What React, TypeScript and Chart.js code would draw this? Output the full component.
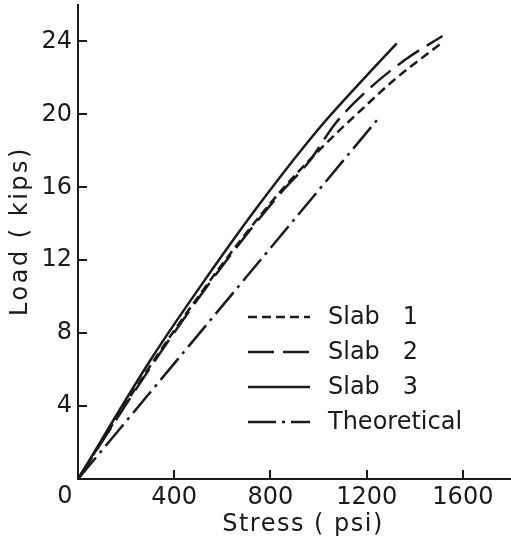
import React, { useEffect, useRef } from "react";
import { Chart, registerables } from "chart.js";

Chart.register(...registerables);

// ---- data ----
const slab1Stress = [0, 300, 500, 700, 850, 1015, 1190, 1315, 1425, 1520];
const slab1Load = [0, 6.2, 10.0, 13.5, 15.9, 18.2, 20.4, 21.9, 23.05, 24.0];

const slab2Stress = [0, 300, 500, 700, 850, 960, 1070, 1210, 1360, 1515];
const slab2Load = [0, 6.1, 9.9, 13.4, 15.8, 17.4, 19.5, 21.4, 23.0, 24.3];

const slab3Stress = [0, 300, 500, 750, 1000, 1170, 1325];
const slab3Load = [0, 6.5, 10.4, 15.0, 19.2, 21.7, 23.9];

const theoStress = [0, 840, 1250];
const theoLoad = [0, 13.3, 19.8];

const seriesLabels = ["Slab   1", "Slab   2", "Slab   3", "Theoretical"];
const xTickValues = [0, 400, 800, 1200, 1600];
const yTickValues = [4, 8, 12, 16, 20, 24];
const originLabel = "0";
const xTitle = "Stress ( psi)";
const yTitle = "Load ( kips)";

const INK = "#1a1a1a";
const FONT = "DejaVu Sans";

const toPoints = (xs: number[], ys: number[]) => xs.map((x, i) => ({ x, y: ys[i] }));

const dashes = [[9, 5], [26, 9], [], [28, 6, 3, 6]];

export default function App() {
  const ref = useRef<HTMLCanvasElement | null>(null);

  useEffect(() => {
    if (!ref.current) return;

    const decorPlugin = {
      id: "decor",
      afterDraw(chart: any) {
        const ctx = chart.ctx as CanvasRenderingContext2D;
        const xs = chart.scales.x;
        const ys = chart.scales.y;
        const area = chart.chartArea;
        ctx.save();
        // inside tick marks
        ctx.strokeStyle = INK;
        ctx.lineWidth = 2;
        ctx.setLineDash([]);
        yTickValues.forEach((v) => {
          const py = Math.round(ys.getPixelForValue(v));
          ctx.beginPath();
          ctx.moveTo(area.left, py);
          ctx.lineTo(area.left + 9, py);
          ctx.stroke();
        });
        xTickValues.forEach((v) => {
          if (v === 0) return;
          const px = Math.round(xs.getPixelForValue(v));
          ctx.beginPath();
          ctx.moveTo(px, area.bottom);
          ctx.lineTo(px, area.bottom - 9);
          ctx.stroke();
        });

        ctx.font = `24px "${FONT}"`;
        ctx.fillStyle = INK;

        // shared origin label, set slightly left of the corner
        ctx.textAlign = "center";
        ctx.textBaseline = "middle";
        ctx.fillText(originLabel, xs.getPixelForValue(0) - 13, area.bottom + 18);

        // legend
        const rowTop = 317;
        const rowStep = 35;
        const lineX0 = 248;
        const lineX1 = 310;
        const textX = 328;
        ctx.textBaseline = "middle";
        ctx.textAlign = "left";
        chart.data.datasets.forEach((ds: any, i: number) => {
          const y = rowTop + i * rowStep;
          ctx.beginPath();
          ctx.lineWidth = 2.5;
          ctx.setLineDash(ds.borderDash || []);
          ctx.moveTo(lineX0, y);
          ctx.lineTo(lineX1, y);
          ctx.stroke();
          ctx.setLineDash([]);
          ctx.fillText(ds.label, textX, y + 1);
        });

        // axis titles
        (ctx as any).letterSpacing = "1.5px";
        ctx.textAlign = "center";
        ctx.textBaseline = "middle";
        ctx.fillText(xTitle, 303, 525);
        ctx.translate(21, 231);
        ctx.rotate(-Math.PI / 2);
        (ctx as any).letterSpacing = "2.5px";
        ctx.fillText(yTitle, 0, 0);
        ctx.restore();
      },
    };

    const chart = new Chart(ref.current, {
      type: "line",
      data: {
        datasets: [
          { label: seriesLabels[0], data: toPoints(slab1Stress, slab1Load), borderDash: dashes[0] },
          { label: seriesLabels[1], data: toPoints(slab2Stress, slab2Load), borderDash: dashes[1] },
          { label: seriesLabels[2], data: toPoints(slab3Stress, slab3Load), borderDash: dashes[2] },
          { label: seriesLabels[3], data: toPoints(theoStress, theoLoad), borderDash: dashes[3] },
        ].map((d) => ({
          ...d,
          borderColor: INK,
          backgroundColor: INK,
          borderWidth: 2.5,
          pointRadius: 0,
          fill: false,
          cubicInterpolationMode: "monotone" as const,
        })),
      },
      options: {
        responsive: false,
        animation: false,
        layout: { padding: { top: 5, right: 0, left: 0, bottom: 0 } },
        plugins: {
          legend: { display: false },
          tooltip: { enabled: false },
        },
        scales: {
          x: {
            type: "linear",
            min: 0,
            max: 1800,
            afterBuildTicks: (s: any) => {
              s.ticks = xTickValues.map((v) => ({ value: v }));
            },
            afterFit: (s: any) => {
              s.height = 62;
              s.paddingRight = 0;
            },
            grid: { display: true, drawOnChartArea: false, drawTicks: false },
            border: { display: true, color: INK, width: 2 },
            ticks: {
              color: INK,
              font: { family: FONT, size: 24 },
              padding: 4,
              maxRotation: 0,
              autoSkip: false,
              callback: (v: any) => (v === 0 ? "" : String(v)),
            },
          },
          y: {
            type: "linear",
            min: 0,
            max: 26,
            afterBuildTicks: (s: any) => {
              s.ticks = yTickValues.map((v) => ({ value: v }));
            },
            afterFit: (s: any) => {
              s.width = 78;
              s.paddingTop = 0;
              s.paddingBottom = 0;
            },
            grid: { display: true, drawOnChartArea: false, drawTicks: false },
            border: { display: true, color: INK, width: 2 },
            ticks: {
              color: INK,
              font: { family: FONT, size: 24 },
              padding: 6,
              autoSkip: false,
              callback: (v: any) => String(v),
            },
          },
        },
      },
      plugins: [decorPlugin],
    });

    return () => chart.destroy();
  }, []);

  return (
    <div style={{ position: "absolute", left: 0, top: 0, width: 511, height: 541, background: "#fff" }}>
      <canvas ref={ref} width={511} height={541} />
    </div>
  );
}
